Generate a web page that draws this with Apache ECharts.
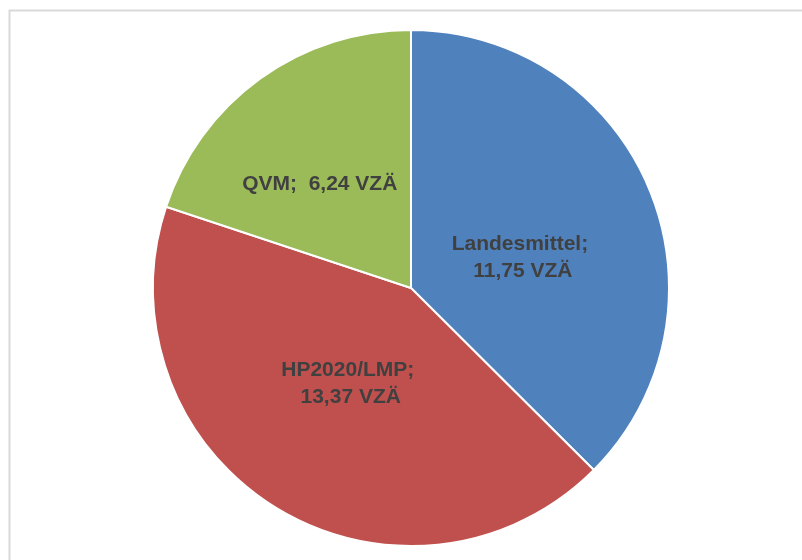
<!DOCTYPE html>
<html><head><meta charset="utf-8">
<script src="https://cdn.jsdelivr.net/npm/echarts@6/dist/echarts.min.js"></script>
<style>html,body{margin:0;padding:0;background:#fff}#c{width:802px;height:560px}</style>
</head><body><div id="c"></div>
<script>
const categories = ['Landesmittel', 'HP2020/LMP', 'QVM'];
const values = [11.75, 13.37, 6.24];
const colors = ['#4F81BD', '#C0504D', '#9BBB59'];
const labelOffsets = [[-13, 20], [6, -17], [-14, 3]];
const fmt = v => v.toFixed(2).replace('.', ',');
const chart = echarts.init(document.getElementById('c'));
chart.setOption({
  animation: false,
  graphic: [{type: 'rect', left: 7, top: 8, shape: {width: 830, height: 600}, style: {fill: 'none', stroke: '#d9d9d9', lineWidth: 2}, z: -1}],
  series: [{
    type: 'pie',
    center: [411, 288],
    radius: [0, 258],
    startAngle: 90,
    clockwise: true,
    itemStyle: {borderColor: '#fff', borderWidth: 2},
    label: {
      position: 'inside',
      color: '#404040',
      fontFamily: 'Liberation Sans, Arial, sans-serif',
      fontWeight: 'bold',
      fontSize: 21,
      lineHeight: 27,
      align: 'center'
    },
    labelLine: {show: false},
    data: categories.map((n, i) => ({
      name: n, value: values[i],
      itemStyle: {color: colors[i]},
      label: {
        offset: labelOffsets[i],
        formatter: i === 2 ? (p => p.name + ';  ' + fmt(p.value) + ' VZÄ') : (p => p.name + ';\n ' + fmt(p.value) + ' VZÄ')
      }
    }))
  }]
});
</script></body></html>
